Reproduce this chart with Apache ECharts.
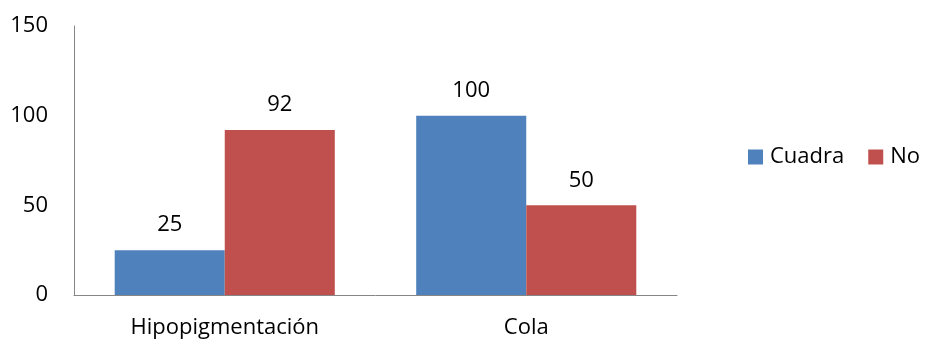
<!DOCTYPE html>
<html><head><meta charset="utf-8">
<script src="https://cdn.jsdelivr.net/npm/echarts@6/dist/echarts.min.js"></script>
<style>html,body{margin:0;padding:0;background:#fff}#c{width:926px;height:342px}</style>
</head><body><div id="c"></div>
<script>
const categories = ['Hipopigmentación', 'Cola'];
const cuadra = [25, 100];
const no = [92, 50];
const yTicks = [0, 50, 100, 150];
const font = 'Open Sans';
const fs = 22;
const chart = echarts.init(document.getElementById('c'));
chart.setOption({
  animation: false,
  grid: {left: 74, right: 249, top: 26, bottom: 47},
  legend: {
    orient: 'horizontal', left: 748, top: 146, padding: 0, width: 178,
    itemWidth: 15, itemHeight: 15, itemGap: 24,
    icon: 'rect',
    textStyle: {fontFamily: font, fontSize: fs, color: '#000', padding: [0,0,0,2]},
    data: ['Cuadra', 'No']
  },
  xAxis: {
    type: 'category', data: categories,
    axisLine: {lineStyle: {color: '#868686', width: 1}},
    axisTick: {show: false},
    axisLabel: {fontFamily: font, fontSize: fs, color: '#000', margin: 22}
  },
  yAxis: {
    type: 'value', min: yTicks[0], max: yTicks[yTicks.length-1], interval: 50,
    axisLine: {show: true, lineStyle: {color: '#868686', width: 1}},
    axisTick: {show: false},
    splitLine: {show: false},
    axisLabel: {fontFamily: font, fontSize: fs, color: '#000', margin: 26}
  },
  series: [
    {name: 'Cuadra', type: 'bar', data: cuadra, barGap: '0%', barCategoryGap: '27%',
     itemStyle: {color: '#4F81BD'},
     label: {show: true, position: 'top', distance: 14, fontFamily: font, fontSize: fs, color: '#000'}},
    {name: 'No', type: 'bar', data: no,
     itemStyle: {color: '#C0504D'},
     label: {show: true, position: 'top', distance: 14, fontFamily: font, fontSize: fs, color: '#000'}}
  ]
});
</script></body></html>
